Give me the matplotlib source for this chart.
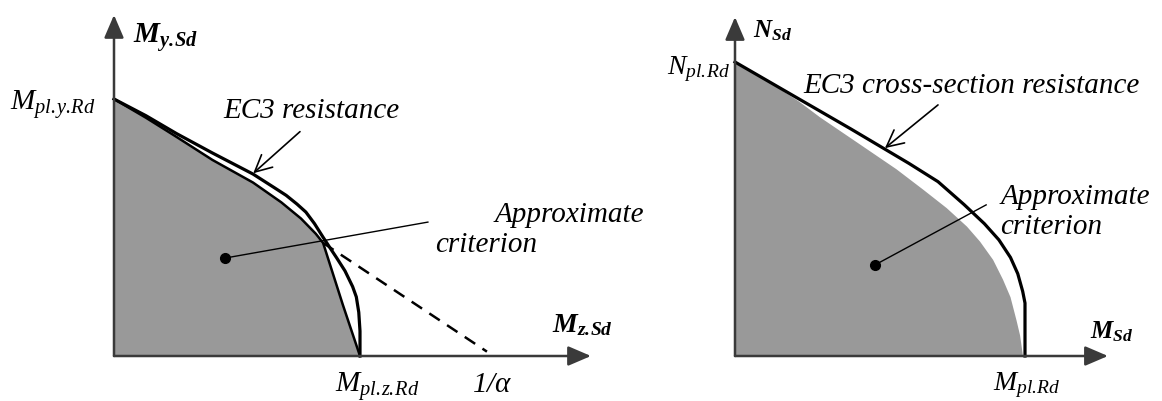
import matplotlib
matplotlib.use("Agg")
import matplotlib.pyplot as plt

plt.rcParams['mathtext.fontset'] = 'custom'
plt.rcParams['mathtext.it'] = 'Liberation Serif:italic'
plt.rcParams['mathtext.rm'] = 'Liberation Serif:italic'
plt.rcParams['mathtext.bf'] = 'Liberation Serif:italic:bold'
plt.rcParams['font.family'] = 'Liberation Serif'

# left panel: My.Sd / Mpl.y.Rd against Mz.Sd / Mpl.z.Rd
approx_mz = [0.0, 0.13, 0.255, 0.40, 0.565, 0.68, 0.76, 0.82, 0.85, 0.89, 0.93, 0.965, 1.0]
approx_my = [1.0, 0.927, 0.852, 0.763, 0.675, 0.598, 0.535, 0.476, 0.44, 0.32, 0.20, 0.10, 0.0]
ec3_mz = [0.0, 0.13, 0.255, 0.40, 0.565, 0.65, 0.70, 0.744, 0.78, 0.815, 0.85, 0.878,
          0.905, 0.939, 0.97, 0.985, 0.995, 1.0, 1.0]
ec3_my = [1.0, 0.935, 0.865, 0.79, 0.708, 0.656, 0.625, 0.591, 0.56, 0.515, 0.462, 0.421,
          0.382, 0.331, 0.27, 0.23, 0.17, 0.097, 0.0]
dash_mz = [0.85, 1.516]
dash_my = [0.44, 0.017]

# right panel: NSd / Npl.Rd against MSd / Mpl.Rd
ec3_m = [0.0, 0.2, 0.4, 0.6, 0.7, 0.79, 0.86, 0.91, 0.95, 0.975, 0.992, 1.0, 1.0]
ec3_n = [1.0, 0.886, 0.772, 0.655, 0.593, 0.515, 0.45, 0.395, 0.335, 0.28, 0.22, 0.18, 0.0]
appr_m = [0.0, 0.12, 0.22, 0.293, 0.42, 0.557, 0.65, 0.73, 0.80, 0.845, 0.89, 0.924,
          0.95, 0.971, 0.983, 0.993]
appr_n = [1.0, 0.93, 0.866, 0.812, 0.727, 0.635, 0.565, 0.503, 0.44, 0.389, 0.327, 0.26,
          0.20, 0.12, 0.07, 0.0]

GRAY = '#999999'
AX = '#3a3a3a'

fig = plt.figure(figsize=(11.62, 4.01), dpi=100)

# pixel layout -> data limits (origin px, unit px)
def make_ax(x0, x1, ox, oy, ux, uy):
    ax = fig.add_axes([x0 / 1162, 0, (x1 - x0) / 1162, 1])
    ax.set_xlim((x0 - ox) / ux, (x1 - ox) / ux)
    ax.set_ylim((oy - 401) / uy, oy / uy)
    ax.axis('off')
    return ax

def axis_arrow(ax, tip):
    ax.annotate('', xy=tip, xytext=(0, 0),
                arrowprops=dict(arrowstyle='-|>,head_length=0.7,head_width=0.3',
                                lw=1.8, color=AX, mutation_scale=20,
                                shrinkA=0, shrinkB=0), zorder=5)

def pointer(ax, start, end):
    ax.annotate('', xy=end, xytext=start,
                arrowprops=dict(arrowstyle='->,head_length=0.6,head_width=0.3',
                                lw=1.2, color='k', mutation_scale=20,
                                shrinkA=0, shrinkB=0), zorder=6)

def px(ax, x, y, s, size, ha='left', **kw):
    # position given in figure pixels
    t = ax.transData.inverted().transform(fig.transFigure.transform((x / 1162, 1 - y / 401)))
    ax.text(t[0], t[1], s, fontsize=size, ha=ha, va='baseline', **kw)

# ---- left ----
ax1 = make_ax(0, 640, 114, 356, 246, 257)
ax1.fill(approx_mz + [0.0], approx_my + [0.0], color=GRAY, lw=0, zorder=1)
ax1.plot(approx_mz, approx_my, color='k', lw=1.8, zorder=3, solid_joinstyle='round')
ax1.plot(ec3_mz, ec3_my, color='k', lw=2.3, zorder=4, solid_joinstyle='round')
ax1.plot(dash_mz, dash_my, color='k', lw=1.8, ls=(0, (5, 3.5)), zorder=3)
ax1.plot([0.451, 1.276], [0.381, 0.521], color='k', lw=1.0, zorder=4)
ax1.plot([0.451], [0.381], 'o', color='k', ms=7, zorder=5)
axis_arrow(ax1, (1.939, 0))
axis_arrow(ax1, (0, 1.327))
pointer(ax1, (0.756, 0.873), (0.566, 0.711))

px(ax1, 133, 43, r'$\mathbf{M_{y.\!Sd}}$', 21)
px(ax1, 10, 110, r'$M_{pl.\!y.\!Rd}$', 21)
px(ax1, 223, 118, 'EC3 resistance', 21, style='italic')
px(ax1, 495, 222, 'Approximate', 21, style='italic')
px(ax1, 435, 252, 'criterion', 21, style='italic')
px(ax1, 552, 332, r'$\mathbf{M_{z.\!Sd}}$', 20)
px(ax1, 335, 392, r'$M_{pl.\!z.\!Rd}$', 21)
px(ax1, 472, 392, r'$1/\alpha$', 21)

# ---- right ----
ax2 = make_ax(640, 1162, 735, 356, 290, 294)
ax2.fill(appr_m + [0.0], appr_n + [0.0], color=GRAY, lw=0, zorder=1)
ax2.plot(ec3_m, ec3_n, color='k', lw=2.3, zorder=4, solid_joinstyle='round')
ax2.plot([0.483, 0.866], [0.31, 0.514], color='k', lw=1.0, zorder=4)
ax2.plot([0.483], [0.31], 'o', color='k', ms=7, zorder=5)
axis_arrow(ax2, (1.286, 0))
axis_arrow(ax2, (0, 1.153))
pointer(ax2, (0.70, 0.854), (0.517, 0.707))

px(ax2, 753, 37, r'$\mathbf{N_{Sd}}$', 18)
px(ax2, 730, 74, r'$N_{pl.\!Rd}$', 20, ha='right')
px(ax2, 803, 93, 'EC3 cross-section resistance', 21, style='italic')
px(ax2, 1001, 204, 'Approximate', 21, style='italic')
px(ax2, 1000, 234, 'criterion', 21, style='italic')
px(ax2, 1090, 338, r'$\mathbf{M_{Sd}}$', 18)
px(ax2, 993, 390, r'$M_{pl.\!Rd}$', 20)

fig.savefig('out.png', dpi=100)
